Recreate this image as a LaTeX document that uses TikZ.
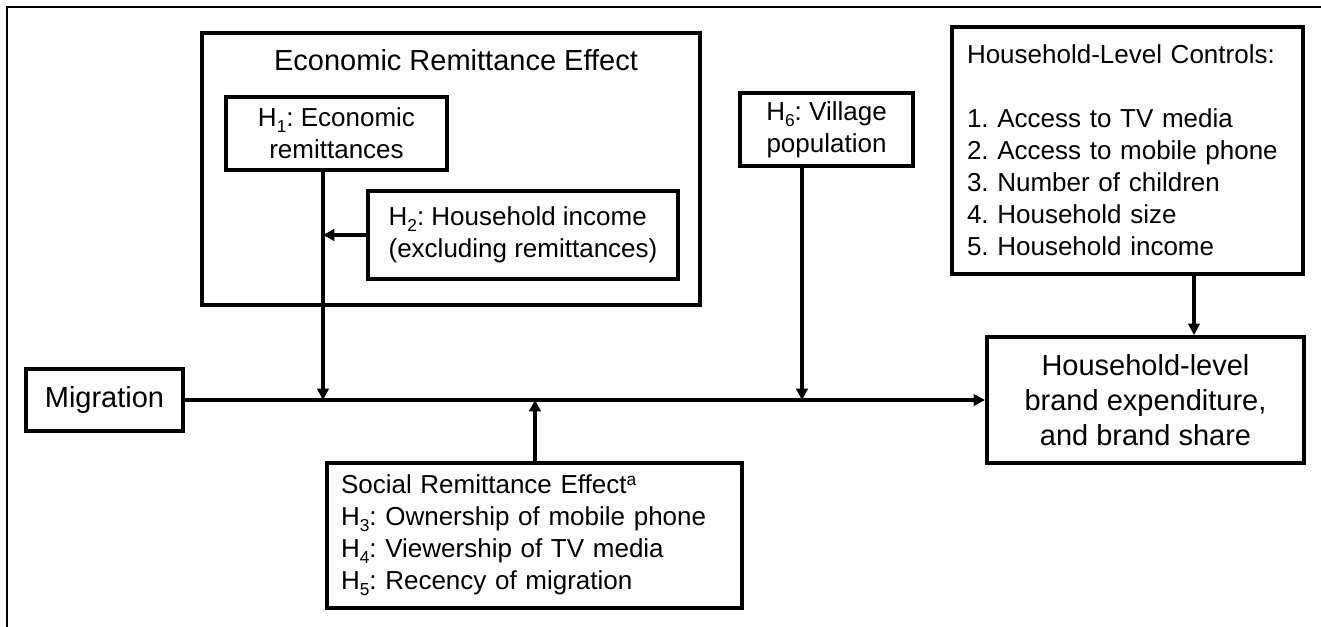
\documentclass[tikz,border=0pt]{standalone}
\usepackage{fontspec}
\setmainfont{Liberation Sans}
\usetikzlibrary{arrows.meta}
\frenchspacing

\tikzset{
  box/.style={draw,line width=2.9pt,inner sep=0pt,align=center,font=\fontsize{19.5}{24}\selectfont},
  bigbox/.style={box,font=\fontsize{21.75}{26.25}\selectfont},
  listbox/.style={box,align=left},
  arr/.style={line width=2.3pt,-{Triangle[length=8.5pt,width=8.5pt]}},
}
\newcommand\hsub[1]{\raisebox{-.45ex}{\fontsize{13}{13}\selectfont #1}}

\begin{document}
\begin{tikzpicture}[x=0.75pt,y=-0.75pt]
\useasboundingbox (0,0) rectangle (1321,626);
\draw[line width=2.2pt] (7,640) -- (7,7) -- (1330,7);

% economic remittance block
\node[box,minimum width=373.5pt,minimum height=204pt] (econ) at (451,169) {};
\node[font=\fontsize{21.75}{26.25}\selectfont,anchor=base,inner sep=0pt] (econtitle) at (456,70) {Economic Remittance Effect};
\node[box,minimum width=165.75pt,minimum height=54.75pt] (hone) at (336.5,133.5) {H\hsub{1}: Economic\\remittances};
\node[box,align=left,minimum width=232.5pt,minimum height=66pt] (htwo) at (523,235) {H\hsub{2}: Household income\\(excluding remittances)};

\node[box,minimum width=129.75pt,minimum height=54.75pt] (hsix) at (826.5,129.5) {H\hsub{6}: Village\\population};

\node[listbox,text width=240.75pt,inner xsep=11.25pt,minimum height=185.25pt] (ctrl) at (1127.5,150.5)
  {Household-Level Controls:\\[24pt]
   1. Access to TV media\\
   2. Access to mobile phone\\
   3. Number of children\\
   4. Household size\\
   5. Household income};

\node[bigbox,minimum width=117.75pt,minimum height=46.5pt] (migr) at (104.5,400) {Migration};
\node[bigbox,minimum width=237.75pt,minimum height=94.5pt] (outc) at (1145.5,400) {Household-level\\brand expenditure,\\and brand share};

\node[listbox,text width=290.25pt,inner xsep=10.5pt,minimum height=108.75pt] (soc) at (534.5,535.5)
  {Social Remittance Effect\raisebox{.6ex}{\fontsize{13}{13}\selectfont a}\\
   H\hsub{3}: Ownership of mobile phone\\
   H\hsub{4}: Viewership of TV media\\
   H\hsub{5}: Recency of migration};

% junctions on the main path
\coordinate (jeco) at (323,400);
\coordinate (jsoc) at (535,400);
\coordinate (jvil) at (802,400);
\coordinate (jctl) at (1194,300);

\draw[arr] (migr) -- (outc);
\draw[arr] (hone.south -| jeco) -- (jeco);
\draw[arr] (htwo.west) -- (htwo.west -| jeco);
\draw[arr] (soc.north -| jsoc) -- (jsoc);
\draw[arr] (hsix.south -| jvil) -- (jvil);
\draw[arr] (ctrl.south -| jctl) -- (outc.north -| jctl);
\end{tikzpicture}
\end{document}
